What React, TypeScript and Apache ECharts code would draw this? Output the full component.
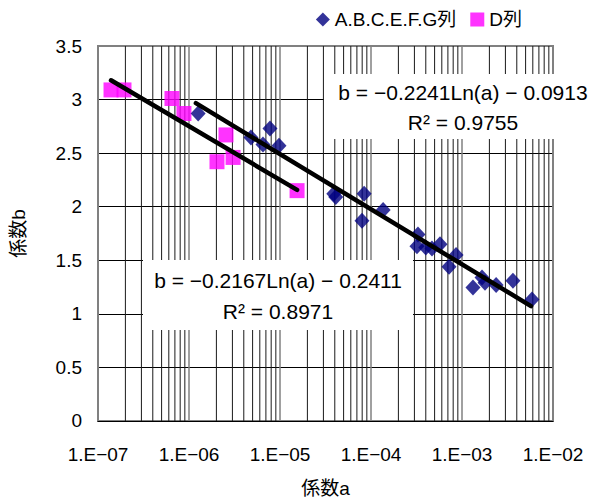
import React, { useEffect, useRef } from "react";
import * as echarts from "echarts";

// ---- data ----
const blueName = "A.B.C.E.F.G列";
const pinkName = "D列";

const blueA = [1.26e-6, 4.8e-6, 6.5e-6, 7.76e-6, 9.75e-6, 3.9e-5, 4.1e-5, 7.96e-5, 8.4e-5, 1.36e-4, 3.2e-4, 3.28e-4, 4.0e-4, 4.68e-4, 5.73e-4, 7.2e-4, 8.6e-4, 1.32e-3, 1.66e-3, 1.79e-3, 2.37e-3, 3.63e-3, 5.87e-3];
const blueB = [2.87, 2.645, 2.58, 2.73, 2.57, 2.12, 2.09, 1.87, 2.12, 1.97, 1.63, 1.74, 1.62, 1.61, 1.65, 1.44, 1.55, 1.245, 1.34, 1.29, 1.27, 1.31, 1.135];

const pinkA = [1.39e-7, 1.93e-7, 6.5e-7, 8.8e-7, 2.03e-6, 2.55e-6, 3.05e-6, 1.54e-5];
const pinkB = [3.09, 3.09, 3.01, 2.87, 2.42, 2.67, 2.46, 2.15];

// trendline end points (as drawn)
const trendBlueA = [1.19e-6, 5.73e-3];
const trendBlueB = [2.967, 1.072];
const trendPinkA = [1.39e-7, 1.54e-5];
const trendPinkB = [3.18, 2.157];

const eqBlue = "b = −0.2241Ln(a) − 0.0913";
const r2Blue = "R² = 0.9755";
const eqPink = "b = −0.2167Ln(a) − 0.2411";
const r2Pink = "R² = 0.8971";

const xTickLabels = ["1.E−07", "1.E−06", "1.E−05", "1.E−04", "1.E−03", "1.E−02"];
const xMin = 1e-7;
const xMax = 1e-2;
const yMin = 0;
const yMax = 3.5;
const decades = [-7, -6, -5, -4, -3];
const minorMult = [2, 3, 4, 5, 6, 7, 8, 9];

const FONT = '"Liberation Sans", "Noto Sans CJK JP", sans-serif';

export default function App() {
  const ref = useRef<HTMLDivElement>(null);
  useEffect(() => {
    if (!ref.current) return;
    const chart = echarts.init(ref.current, undefined, { renderer: "svg" });
    // minor log grid lines, drawn as broken line segments through the axes
    const minorGrid: any[] = [];
    decades.forEach((d) =>
      minorMult.forEach((k) => {
        const x = k * Math.pow(10, d);
        minorGrid.push([x, yMin], [x, yMax], [x, "-"]);
      })
    );

    chart.setOption({
      animation: false,
      backgroundColor: "#fff",
      textStyle: { fontFamily: FONT },
      grid: {
        left: 98,
        right: 45,
        top: 46,
        bottom: 76.5,
        show: true,
        borderColor: "#808080",
        borderWidth: 2,
        backgroundColor: "#fff",
      },
      legend: {
        right: 76,
        top: 10,
        padding: 0,
        itemGap: 14,
        itemWidth: 14,
        itemHeight: 14,
        textStyle: { fontSize: 19, color: "#000", fontFamily: FONT },
        data: [
          { name: blueName, icon: "diamond" },
          { name: pinkName, icon: "rect" },
        ],
      },
      xAxis: {
        type: "log",
        logBase: 10,
        min: xMin,
        max: xMax,
        axisLine: { show: true, lineStyle: { color: "#000", width: 1 } },
        axisTick: { show: false },
        axisLabel: {
          fontSize: 19,
          color: "#000",
          margin: 24,
          fontFamily: FONT,
          formatter: (v: number) => {
            const e = Math.round(Math.log10(v));
            return xTickLabels[e + 7] ?? "";
          },
        },
        splitLine: { show: true, lineStyle: { color: "#808080", width: 1.5 } },
        name: "係数a",
        nameLocation: "middle",
        nameGap: 58,
        nameTextStyle: { fontSize: 19, color: "#000", fontFamily: FONT },
      },
      yAxis: {
        type: "value",
        min: yMin,
        max: yMax,
        interval: 0.5,
        axisLine: { show: true, lineStyle: { color: "#808080", width: 2 } },
        axisTick: { show: false },
        axisLabel: { fontSize: 19, color: "#000", margin: 16, fontFamily: FONT },
        splitLine: {
          show: true,
          lineStyle: {
            color: ["#000", "#000", "#000", "#000", "#000", "#000", "#000", "#808080"],
            width: 1,
          },
        },
        name: "係数b",
        nameLocation: "middle",
        nameGap: 70,
        nameTextStyle: { fontSize: 19, color: "#000", fontFamily: FONT },
      },
      series: [
        {
          name: "minorGrid",
          type: "line",
          symbol: "none",
          showSymbol: false,
          silent: true,
          connectNulls: false,
          z: 1,
          lineStyle: { color: "#1a1a1a", width: 1 },
          data: minorGrid,
        },
        {
          name: pinkName,
          type: "scatter",
          symbol: "rect",
          symbolSize: 15,
          itemStyle: { color: "#FF00FF" },
          z: 3,
          data: pinkA.map((a, i) => [a, pinkB[i]]),
        },
        {
          name: blueName,
          type: "scatter",
          symbol: "diamond",
          symbolSize: [15, 16],
          itemStyle: { color: "#000080" },
          z: 3,
          data: blueA.map((a, i) => [a, blueB[i]]),
        },
        {
          name: "trendBlue",
          type: "line",
          showSymbol: false,
          symbol: "none",
          z: 5,
          lineStyle: { color: "#000", width: 4.5, cap: "round" },
          data: trendBlueA.map((a, i) => [a, trendBlueB[i]]),
        },
        {
          name: "trendPink",
          type: "line",
          showSymbol: false,
          symbol: "none",
          z: 5,
          lineStyle: { color: "#000", width: 4.5, cap: "round" },
          data: trendPinkA.map((a, i) => [a, trendPinkB[i]]),
        },
      ],
      graphic: [
        { type: "rect", z: 100, shape: { x: 324, y: 74, width: 276, height: 65 }, style: { fill: "#fff" } },
        {
          type: "text", z: 101, x: 463, y: 92,
          style: { text: eqBlue, fontSize: 21, fontFamily: FONT, fill: "#000", align: "center", verticalAlign: "middle" },
        },
        {
          type: "text", z: 101, x: 463, y: 122,
          style: { text: r2Blue, fontSize: 21, fontFamily: FONT, fill: "#000", align: "center", verticalAlign: "middle" },
        },
        { type: "rect", z: 100, shape: { x: 143, y: 260, width: 270, height: 70 }, style: { fill: "#fff" } },
        {
          type: "text", z: 101, x: 278, y: 280,
          style: { text: eqPink, fontSize: 21, fontFamily: FONT, fill: "#000", align: "center", verticalAlign: "middle" },
        },
        {
          type: "text", z: 101, x: 278, y: 311,
          style: { text: r2Pink, fontSize: 21, fontFamily: FONT, fill: "#000", align: "center", verticalAlign: "middle" },
        },
      ],
    });
    return () => chart.dispose();
  }, []);
  return (
    <div
      ref={ref}
      style={{ position: "fixed", left: 0, top: 0, width: 598, height: 503, background: "#fff" }}
    />
  );
}
